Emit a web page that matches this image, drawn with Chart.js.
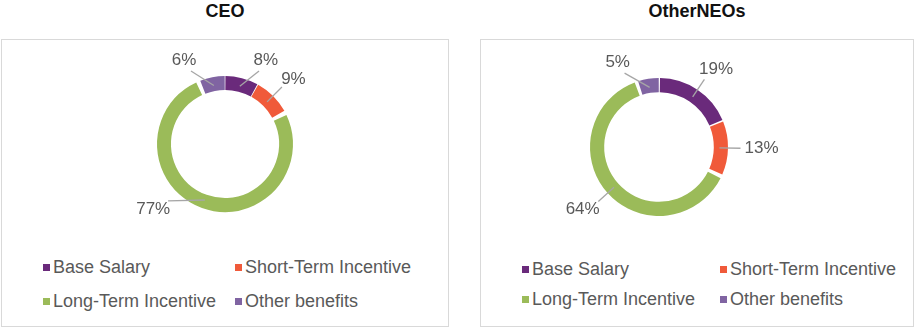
<!DOCTYPE html>
<html>
<head>
<meta charset="utf-8">
<script src="https://cdn.jsdelivr.net/npm/chart.js@4.4.1/dist/chart.umd.min.js"></script>
<style>
  body { margin: 0; background: #fff; width: 914px; height: 328px; position: relative; overflow: hidden;
         font-family: "Liberation Sans", Arial, sans-serif; }
  .title { position: absolute; top: 0; height: 22px; line-height: 22px; text-align: center;
           font-weight: bold; font-size: 18px; color: #111; }
  .panel { position: absolute; top: 39px; height: 288px; box-sizing: border-box; border: 1px solid #d9d9d9; }
  .plot { position: absolute; left: 0; top: 0; height: 216px; }
  .item { position: absolute; font-size: 18px; color: #595959; white-space: nowrap; line-height: 20px; }
  .item span.box { position: absolute; width: 7px; height: 7px; left: -10px; top: 7px; }
</style>
</head>
<body>
<div class="title" style="left:1px;width:448px">CEO</div>
<div class="panel" style="left:1px;width:448px">
  <div class="plot" style="width:446px"><canvas id="ceoChart"></canvas></div>
  <div id="ceoLegend"></div>
</div>
<div class="title" style="left:480px;width:434px">OtherNEOs</div>
<div class="panel" style="left:480px;width:434px">
  <div class="plot" style="width:432px"><canvas id="neoChart"></canvas></div>
  <div id="neoLegend"></div>
</div>
<script>
const categories = ['Base Salary', 'Short-Term Incentive', 'Long-Term Incentive', 'Other benefits'];
const ceoValues = [8, 9, 77, 6];
const neoValues = [19, 13, 64, 5];
const sliceColors = ['#6a2a7b', '#f05a3a', '#9bbb59', '#8064a2'];

// labels outside the ring with a grey leader line
const outLabels = {
  id: 'outLabels',
  afterDatasetsDraw(chart, args, opts) {
    const ctx = chart.ctx;
    const meta = chart.getDatasetMeta(0);
    const data = chart.data.datasets[0].data;
    const size = opts.size;
    ctx.save();
    ctx.font = size + 'px "Liberation Sans", Arial, sans-serif';
    ctx.textAlign = 'center';
    ctx.textBaseline = 'middle';
    meta.data.forEach((arc, i) => {
      const p = arc.getProps(['x', 'y', 'startAngle', 'endAngle', 'innerRadius', 'outerRadius'], true);
      const mid = (p.startAngle + p.endAngle) / 2;
      let t = mid + Math.PI / 2;
      while (t > Math.PI) t -= 2 * Math.PI;
      while (t <= -Math.PI) t += 2 * Math.PI;
      const minTop = opts.minTop * Math.PI / 180;
      const minBottom = opts.minBottom * Math.PI / 180;
      const sgn = t < 0 ? -1 : 1;
      if (Math.abs(t) < minTop) t = sgn * minTop;
      if (Math.abs(t) > Math.PI - minBottom) t = sgn * (Math.PI - minBottom);
      const rMid = (p.innerRadius + p.outerRadius) / 2;
      const ax = p.x + rMid * Math.cos(mid);
      const ay = p.y + rMid * Math.sin(mid);
      const re = p.outerRadius + opts.lead;
      const ex = p.x + re * Math.sin(t);
      const ey = p.y - re * Math.cos(t);
      ctx.strokeStyle = '#a6a6a6';
      ctx.lineWidth = 1.3;
      ctx.beginPath();
      ctx.moveTo(ax, ay);
      ctx.lineTo(ex, ey);
      ctx.stroke();
      const txt = data[i] + '%';
      const w = ctx.measureText(txt).width;
      const cx = ex + Math.sin(t) * (w / 2 + 4);
      const cy = ey - Math.cos(t) * (size / 2 + 3);
      ctx.fillStyle = '#595959';
      ctx.fillText(txt, cx, cy);
    });
    ctx.restore();
  }
};

function makeDonut(id, values, padding) {
  return new Chart(document.getElementById(id), {
    type: 'doughnut',
    data: {
      labels: categories,
      datasets: [{
        data: values,
        backgroundColor: sliceColors,
        borderWidth: 0,
        spacing: 3
      }]
    },
    options: {
      responsive: true,
      maintainAspectRatio: false,
      animation: false,
      cutout: '79%',
      layout: { padding: padding },
      plugins: {
        legend: { display: false },
        tooltip: { enabled: false },
        outLabels: { size: 17, lead: 14, minTop: 25, minBottom: 45 }
      }
    },
    plugins: [outLabels]
  });
}

function makeLegend(chart, id, colX, rowY) {
  const el = document.getElementById(id);
  const items = chart.options.plugins.legend.labels.generateLabels(chart);
  items.forEach((it, i) => {
    const d = document.createElement('div');
    d.className = 'item';
    d.style.left = colX[i % 2] + 'px';
    d.style.top = (rowY[Math.floor(i / 2)] - 10) + 'px';
    d.innerHTML = '<span class="box" style="background:' + it.fillStyle + '"></span>' + it.text;
    el.appendChild(d);
  });
}

const ceoChart = makeDonut('ceoChart', ceoValues, { top: 36, bottom: 44, left: 0, right: 0 });
const neoChart = makeDonut('neoChart', neoValues, { top: 38, bottom: 40, left: 0, right: 76 });
makeLegend(ceoChart, 'ceoLegend', [51, 243], [227, 261]);
makeLegend(neoChart, 'neoLegend', [51, 249], [229, 259]);
</script>
</body>
</html>
